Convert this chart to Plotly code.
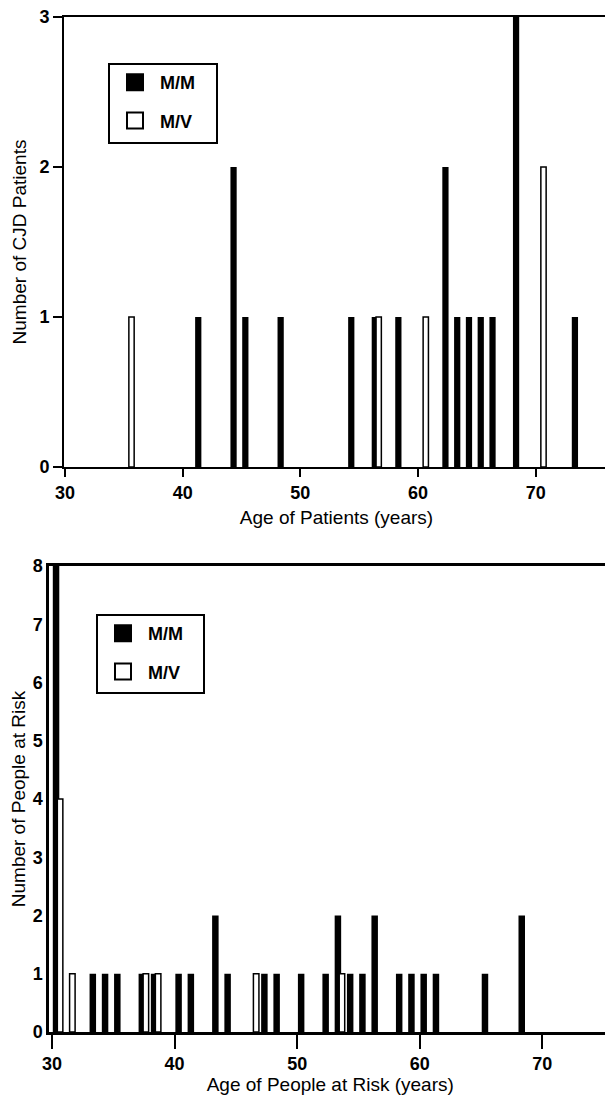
import plotly.graph_objects as go

# ---- Data: top panel (CJD patients) ----
cjd_mm_age = [41, 44, 45, 48, 54, 56, 58, 62, 63, 64, 65, 66, 68, 73]
cjd_mm_count = [1, 2, 1, 1, 1, 1, 1, 2, 1, 1, 1, 1, 3, 1]
cjd_mv_age = [35, 56, 60, 70]
cjd_mv_count = [1, 1, 1, 2]

# ---- Data: bottom panel (people at risk) ----
risk_mm_age = [30, 33, 34, 35, 37, 38, 40, 41, 43, 44, 47, 48, 50, 52, 53, 54,
               55, 56, 58, 59, 60, 61, 65, 68]
risk_mm_count = [8, 1, 1, 1, 1, 1, 1, 1, 2, 1, 1, 1, 1, 1, 2, 1,
                 1, 2, 1, 1, 1, 1, 1, 2]
risk_mv_age = [30, 31, 37, 38, 46, 53]
risk_mv_count = [4, 1, 1, 1, 1, 1]

x_ticks = [30, 40, 50, 60, 70]
top_y_ticks = [0, 1, 2, 3]
bottom_y_ticks = [0, 1, 2, 3, 4, 5, 6, 7, 8]

# page body has an 8px margin; the figure fills the rest of the window
OFF = 8
W, H = 613 - OFF, 1097 - OFF
FONT = "Liberation Sans, Arial, sans-serif"

fig = go.Figure()

def add_panel(mm_age, mm_cnt, mv_age, mv_cnt, xa, ya):
    fig.add_trace(go.Bar(x=mm_age, y=mm_cnt, offset=0.06, width=0.53,
                         marker=dict(color="black", line=dict(width=0)),
                         showlegend=False, xaxis=xa, yaxis=ya))
    fig.add_trace(go.Bar(x=mv_age, y=mv_cnt, offset=0.43, width=0.45,
                         marker=dict(color="white", line=dict(color="black", width=1.5)),
                         showlegend=False, xaxis=xa, yaxis=ya))

add_panel(cjd_mm_age, cjd_mm_count, cjd_mv_age, cjd_mv_count, "x", "y")
add_panel(risk_mm_age, risk_mm_count, risk_mv_age, risk_mv_count, "x2", "y2")

# legend proxies
for lg, xa, ya in [("legend", "x", "y"), ("legend2", "x2", "y2")]:
    fig.add_trace(go.Scatter(x=[None], y=[None], mode="markers", name="M/M",
                             marker=dict(symbol="square", size=16, color="black",
                                         line=dict(color="black", width=2)),
                             legend=lg, legendgroup=lg + "a", xaxis=xa, yaxis=ya))
    fig.add_trace(go.Scatter(x=[None], y=[None], mode="markers", name="M/V",
                             marker=dict(symbol="square", size=16, color="white",
                                         line=dict(color="black", width=2)),
                             legend=lg, legendgroup=lg + "b", xaxis=xa, yaxis=ya))

tickfont = dict(family=FONT, size=18, color="black", weight="bold")
titlefont = dict(family=FONT, size=19, color="black")

def px_x(p):
    return (p - OFF) / W

def px_y(p):
    return 1 - (p - OFF) / H

common_axis = dict(showline=True, linecolor="black", mirror=True, showgrid=False,
                   zeroline=False, tickfont=tickfont, tickcolor="black",
                   automargin=False, ticklabeloverflow="allow")

legend_style = dict(xanchor="left", yanchor="top", bgcolor="rgba(0,0,0,0)",
                    borderwidth=0,
                    font=dict(family=FONT, size=18, color="black", weight="bold"),
                    tracegroupgap=12, itemwidth=40)

# legend frames (decoration, in page pixels)
legend_boxes = [(109, 64, 217, 143), (97, 615, 204, 693)]
shapes = [dict(type="rect", xref="paper", yref="paper",
               x0=px_x(a), x1=px_x(c), y0=px_y(d), y1=px_y(b),
               line=dict(color="black", width=2), fillcolor="rgba(0,0,0,0)",
               layer="above")
          for a, b, c, d in legend_boxes]

fig.update_layout(
    width=W, height=H, margin=dict(l=0, r=0, t=0, b=0, autoexpand=False),
    paper_bgcolor="white", plot_bgcolor="white", barmode="overlay",
    font=dict(family=FONT, color="black"),
    shapes=shapes,
    xaxis=dict(domain=[px_x(64), px_x(609)], range=[29.92, 76.22], anchor="y",
               tickvals=x_ticks, ticks="outside", ticklen=8, tickwidth=2, linewidth=2,
               title=dict(text="Age of Patients (years)", font=titlefont, standoff=9),
               **common_axis),
    yaxis=dict(domain=[px_y(467), px_y(17)], range=[0, 3], anchor="x",
               tickvals=top_y_ticks, ticks="outside", ticklen=9, tickwidth=2, linewidth=2,
               title=dict(text="Number of CJD Patients", font=titlefont, standoff=8),
               **common_axis),
    xaxis2=dict(domain=[px_x(49), px_x(611.5)], range=[29.75, 75.65], anchor="y2",
                tickvals=x_ticks, ticks="outside", ticklen=14, tickwidth=2, linewidth=2.5,
                title=dict(text="Age of People at Risk (years)", font=titlefont, standoff=4),
                **common_axis),
    yaxis2=dict(domain=[px_y(1032), px_y(566)], range=[0, 8], anchor="x2",
                tickvals=bottom_y_ticks, ticks="", linewidth=2.5,
                title=dict(text="Number of People at Risk", font=titlefont, standoff=8),
                **common_axis),
    legend=dict(x=px_x(110), y=px_y(64), **legend_style),
    legend2=dict(x=px_x(98), y=px_y(615), **legend_style),
)

fig.write_html("out.html")
